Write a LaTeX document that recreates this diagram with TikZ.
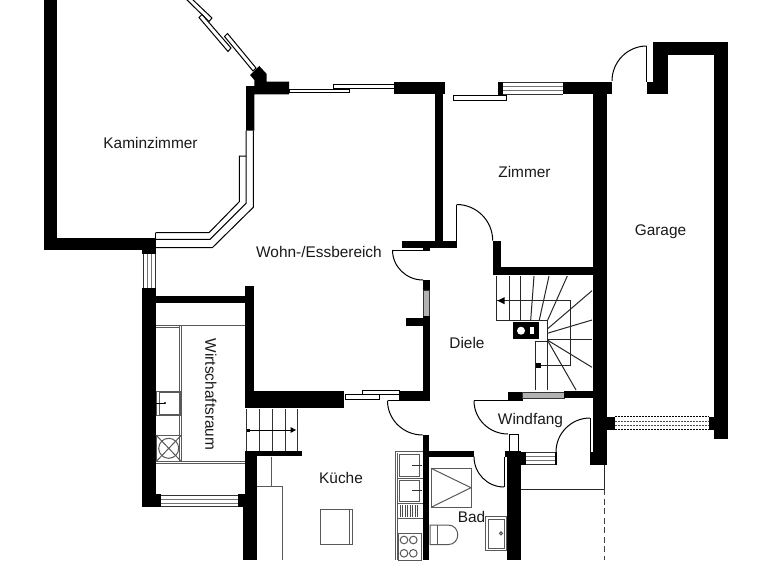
\documentclass[tikz,border=0pt]{standalone}
\usepackage{fontspec}
\setmainfont{Liberation Sans}
\usetikzlibrary{calc}
\newcommand\bk[4]{\fill[black] (#1,#2) rectangle (#3,#4);}
\newcommand\dooracr[6]{\draw[thinl] (#1,#2) .. controls ($(#1,#2)!0.552!(#5,#6)$) and ($(#3,#4)!0.552!(#5,#6)$) .. (#3,#4);}
\tikzset{
  thinl/.style={draw=black,line width=1pt},
  fix/.style={draw=black!65,line width=1pt},
  fixd/.style={draw=black!80,line width=1pt},
  lbl/.style={font=\fontsize{15.4}{17}\selectfont,text=black!90,inner sep=0pt},
  sash/.style={draw=black,line width=1pt,fill=white},
  pane/.style={draw=black!55,line width=1pt}
}
\begin{document}
\begin{tikzpicture}[x=1pt,y=-1pt]
\useasboundingbox (0,0) rectangle (768,560);
\fill[white] (0,0) rectangle (768,560);
% Kaminzimmer walls
\bk{43.5}{0}{56.5}{250}
\bk{56.5}{238}{155.5}{250}
\bk{142}{250}{155.5}{254}
% diagonal window
\begin{scope}
\clip (150,0) rectangle (270,100);
\draw[sash] (185,-2) -- (191,-2) -- (212,18) -- (209,21.5) -- cycle;
\draw[sash] (224.5,36.5) -- (227.5,33.5) -- (256,68) -- (253,71) -- cycle;
\draw[sash] (199,17.5) -- (202,14.5) -- (231,48) -- (228,51.5) -- cycle;
\end{scope}
\fill[black] (250,75) -- (259.3,66) -- (266.7,74) -- (266.7,81.7) -- (289,81.7) -- (289,94.3) -- (254.3,94.3) -- (254.3,130.7) -- (246,130.7) -- (246,86) -- (254.3,86) -- (254.3,80) -- cycle;
% bay window
\draw[thinl] (155.5,247.7) -- (212.3,247.7) -- (253.3,207.3) -- (253.3,130.7);
\draw[thinl] (155.5,239.3) -- (210,239.3) -- (246,203.3) -- (246,130.7);
\draw[thinl] (155.5,232.7) -- (209,232.7) -- (239.3,201.7) -- (239.3,156) -- (246,156);
\draw[thinl] (155.5,232.7) -- (155.5,247.7);
% small window under Kaminzimmer
\draw[fixd] (143,254) -- (143,288);
\draw[fixd] (155,254) -- (155,288);
\draw[pane] (147,254) -- (147,288);
\draw[pane] (151,254) -- (151,288);
% Wohn top
\draw[sash] (289,89) rectangle (349,92.7);
\draw[sash] (333,84) rectangle (394,88.7);
\bk{394}{81.5}{445}{94.3}
\bk{435}{94}{442.7}{241}
\bk{402.3}{240.7}{456.7}{248}
\bk{423}{248}{430}{250.7}
% Zimmer window
\draw[sash] (453,95.3) rectangle (506,100);
\bk{498.3}{81.5}{503}{95}
\draw[fixd] (503,82) -- (562.7,82);
\draw[fixd] (503,94) -- (562.7,94);
\draw[pane] (503,86) -- (562.7,86);
\draw[pane] (503,90) -- (562.7,90);
\bk{562.7}{81.5}{612.3}{94.3}
\bk{593.3}{94}{606.7}{465}
\bk{590}{452}{606.7}{465}
% Garage
\bk{646.7}{81.5}{668.3}{94.3}
\bk{653.3}{41.7}{668.3}{82}
\bk{653.3}{41.7}{727.7}{55}
\bk{714.3}{41.7}{727.7}{439}
\bk{709}{416.5}{715}{429.5}
\bk{606}{416.5}{615}{429.5}
\draw[thinl] (646.7,46) -- (646.7,81.5);
\dooracr{646.7}{46}{612}{81}{612}{46}
% Garage window
\draw[black,line width=1pt,dash pattern=on 2pt off 1pt] (615,416.5) -- (709,416.5);
\draw[black,line width=1pt,dash pattern=on 2pt off 1pt] (615,429.5) -- (709,429.5);
\draw[black!70,line width=1pt,dash pattern=on 2pt off 1pt] (615,421) -- (709,421);
\draw[black!70,line width=1pt,dash pattern=on 2pt off 1pt] (615,425) -- (709,425);
% Diele walls
\bk{493}{240.7}{501}{275}
\bk{493}{267}{600}{275}
\draw[thinl] (456.7,204.5) -- (456.7,240.7);
\dooracr{456.7}{204.5}{492.7}{240.7}{492.7}{204.5}
\draw[thinl] (392.5,250) -- (423,250);
\dooracr{392.5}{250}{423}{280}{392.5}{280}
\bk{422.7}{280}{430}{290.7}
\draw[fixd,fill=black!30] (423.5,290.7) rectangle (429,316);
\bk{422.7}{316}{430}{400.7}
\bk{406}{318}{423}{325.7}
\bk{399}{390.7}{430}{400.7}
% Wohn bottom
\bk{245}{391}{344.3}{407.7}
\bk{245}{286}{254.3}{392}
\draw[sash] (345,394.3) rectangle (379,399);
\draw[sash] (362.7,390) rectangle (399,394.3);
\draw[thinl] (387.5,400.7) -- (422.7,400.7);
\dooracr{387.5}{400.7}{422.7}{435}{387.5}{435}
\bk{422.7}{435}{429.3}{560}
% Windfang top
\bk{508}{392}{522.7}{400.7}
\draw[fixd,fill=black!30] (522.7,392.7) rectangle (564,398);
\bk{564}{391}{594}{398.3}
% Windfang doors
\draw[thinl] (474,400.7) -- (508,400.7);
\dooracr{474}{400.7}{508}{434}{474}{434}
\draw[thinl] (509,434) rectangle (518,451);
\draw[thinl] (590,418) -- (590,452);
\dooracr{590}{418}{556}{452}{556}{418}
\bk{505}{451}{520.7}{456.7}
\bk{506.7}{451}{520.7}{560}
\bk{520.7}{452}{525.7}{464.5}
\bk{555}{452}{556.7}{464.5}
\draw[fixd] (525.7,452.5) -- (555,452.5);
\draw[fixd] (525.7,464) -- (555,464);
\draw[pane] (525.7,456.5) -- (555,456.5);
\draw[pane] (525.7,460.5) -- (555,460.5);
\draw[thinl,black!85] (520.7,489) -- (604,489);
\draw[thinl,black!85] (604,465) -- (604,489);
\draw[black!75,line width=1pt,dash pattern=on 6pt off 3.5pt] (604,489) -- (604,560);
% Bad
\bk{429.3}{450.7}{474}{456.7}
\draw[thinl] (504,456.7) -- (504,487);
\dooracr{474}{456.7}{504}{487}{474}{487}
\draw[fix] (431,468.3) rectangle (471,507.3);
\draw[fix] (431,468.3) -- (471,487.7) -- (431,507.3);
\draw[fix] (430,525) -- (448,525) .. controls (461,525) and (461,544.6) .. (448,544.6) -- (430,544.6) -- cycle;
\draw[fix] (437.5,525) -- (437.5,544.6);
\draw[fix] (485.7,516.7) rectangle (506.7,550.7);
\draw[fix] (488.3,519.5) rectangle (504.3,548.3);
\draw[fix] (501,533.3) circle (1.5);
% Wirtschaftsraum
\bk{142.3}{288}{156}{506.7}
\bk{156}{296}{245}{303.3}
\bk{245}{451}{301.7}{456}
\bk{245}{451}{256.7}{560}
\bk{243.3}{495}{256.7}{560}
\bk{142.3}{493.5}{160.7}{506.7}
\bk{237.7}{493.5}{245}{506.7}
\draw[fixd] (160.7,495.5) -- (237.7,495.5);
\draw[fixd] (160.7,506) -- (237.7,506);
\draw[pane] (160.7,499) -- (237.7,499);
\draw[pane] (160.7,503) -- (237.7,503);
\draw[fix] (156,325) -- (245,325);
\draw[fix] (156,327) -- (180,327);
\draw[fix] (181.5,326) -- (181.5,462);
\draw[fix] (179.5,326) -- (179.5,462);
\draw[fix] (156,461) -- (245,461);
\draw[fix] (156,463) -- (245,463);
\draw[fix] (156,391) rectangle (180,415);
\draw[fix] (159,392.7) rectangle (179,414);
\draw[black,line width=1pt] (156,403) -- (165,403);
\fill[black] (165,403) circle (1.2);
\draw[fix] (156,435) rectangle (181.5,461.7);
\draw[fix] (156,435) -- (181.5,461.7);
\draw[fix] (181.5,435) -- (156,461.7);
\draw[fix] (168.7,448.3) circle (10);
% Wirtschaft stairs
\draw[fixd] (246.7,409) -- (246.7,451);
\draw[fixd] (259.3,409) -- (259.3,451);
\draw[fixd] (272.7,409) -- (272.7,451);
\draw[fixd] (285,409) -- (285,451);
\draw[fixd] (297.3,409) -- (297.3,451);
\draw[black,line width=1pt] (248,430) -- (291,430);
\fill[black] (296,430) -- (290.5,427) -- (290.5,433) -- cycle;
\fill[black] (246.5,428.5) rectangle (250,431.5);
% Kitchen left counter
\draw[fix] (256.7,486) -- (282.7,486);
\draw[fix] (282.7,486) -- (282.7,560);
\draw[fix] (271.7,456.7) -- (271.7,486);
% Kitchen right counter
\draw[fix] (395.7,451) -- (395.7,560);
\draw[fix] (397.7,453) -- (397.7,560);
\draw[fix] (395.7,451.5) -- (422.7,451.5);
\draw[fix] (399.3,454) rectangle (419,476);
\draw[fix] (399.3,480) rectangle (419,501.7);
\draw[fix] (397.7,478) -- (422.7,478);
\draw[black!80,line width=1pt] (412,465) -- (422,465);
\draw[black!80,line width=1pt] (412,490) -- (422,490);
\draw[fix] (397.7,503) -- (422.7,503);
\foreach \xx in {400,402.5,405,407.5,410,412.5,415,417.5}{\draw[black!70,line width=1pt] (\xx,505) -- (\xx,517);}
\draw[fix] (398.3,533.3) rectangle (421.7,560);
\draw[fix] (404,540) circle (3.8);
\draw[fix] (413.3,540) circle (3.8);
\draw[fix] (404,553.3) circle (3.8);
\draw[fix] (413.3,553.3) circle (3.8);
\draw[fix] (397.7,518) -- (422.7,518);
% Kitchen table
\draw[fix] (320,509.3) rectangle (352.3,544);
\draw[fix] (349.3,509.3) -- (349.3,544);
% Main stairs
\draw[thinl,black!85] (496.7,276) -- (496.7,320) -- (547.3,320) -- (547.3,390);
\draw[thinl,black!85] (535.7,390) -- (535.7,341.7) -- (547.3,341.7);
\draw[thinl,black!85] (509,276) -- (509,320);
\draw[thinl,black!85] (520.7,276) -- (520.7,320);
\draw[thinl,black!85] (534,276) -- (530.7,320);
\draw[thinl,black!85] (549,276) -- (539.3,320);
\draw[thinl,black!85] (567.3,276) -- (547.7,320);
\draw[thinl,black!85] (547.3,329) -- (592,290.7);
\draw[thinl,black!85] (547.3,333.3) -- (592,320);
\draw[thinl,black!85] (547.3,339.3) -- (592,339.3);
\draw[thinl,black!85] (547.3,340) -- (592,367.3);
\draw[thinl,black!85] (547.3,340) -- (576,390);
\draw[thinl,black!85] (496.7,300.7) -- (570,300.7) -- (570,365) -- (535.7,365);
\fill[black] (497.5,300.7) -- (504.5,297.2) -- (504.5,304.2) -- cycle;
\fill[black] (535.7,363) rectangle (541,368);
\bk{513.3}{321.7}{538.7}{339.3}
\fill[white] (521,330.7) circle (4);
\fill[white] (530,327.3) rectangle (533.7,334.3);
% labels
\node[lbl] (kamin) at (150.5,142.5) {Kaminzimmer};
\node[lbl] (wohn) at (319,252) {Wohn-/Essbereich};
\node[lbl] (zimmer) at (524.5,171.5) {Zimmer};
\node[lbl] (garage) at (660.5,232) {Garage};
\node[lbl] (diele) at (467,343) {Diele};
\node[lbl] (windfang) at (530.5,421) {Windfang};
\node[lbl] (kueche) at (341,478) {Küche};
\node[lbl] (bad) at (471.5,517) {Bad};
\node[lbl,rotate=-90] (wirt) at (211,394.5) {Wirtschaftsraum};
\end{tikzpicture}
\end{document}
